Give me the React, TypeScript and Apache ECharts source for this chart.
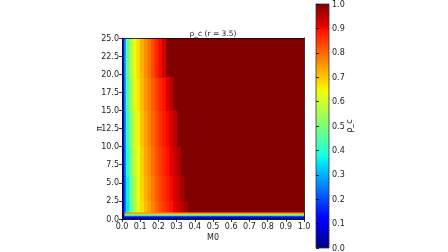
import React, { useEffect, useRef } from "react";
import * as echarts from "echarts";

// x cell edges (M0) and y bands (π)
const xEdges = [0, 0.01, 0.02, 0.04, 0.06, 0.08, 0.1, 0.12, 0.14, 0.16, 0.18, 0.2, 0.22, 0.24, 0.26, 0.28, 0.3, 0.32, 0.34, 0.36, 1.0];
const bandLow = [0.9, 2.5, 6, 10, 15, 19.6];
const bandHigh = [2.5, 6, 10, 15, 19.6, 25];
const profile0 = [0.08, 0.2, 0.35, 0.47, 0.56, 0.62, 0.67, 0.71, 0.74, 0.77, 0.8, 0.83, 0.85, 0.87, 0.89, 0.91, 0.93, 0.95, 0.97, 1];
const profile1 = [0.08, 0.2, 0.36, 0.48, 0.57, 0.63, 0.68, 0.72, 0.75, 0.78, 0.81, 0.84, 0.86, 0.88, 0.9, 0.92, 0.94, 0.97, 1, 1];
const profile2 = [0.08, 0.21, 0.38, 0.5, 0.59, 0.64, 0.69, 0.73, 0.76, 0.79, 0.82, 0.85, 0.87, 0.89, 0.91, 0.93, 0.96, 1, 1, 1];
const profile3 = [0.08, 0.22, 0.4, 0.52, 0.6, 0.65, 0.7, 0.74, 0.77, 0.8, 0.83, 0.86, 0.88, 0.9, 0.92, 0.95, 1, 1, 1, 1];
const profile4 = [0.08, 0.24, 0.43, 0.55, 0.62, 0.67, 0.71, 0.75, 0.78, 0.81, 0.84, 0.87, 0.89, 0.92, 0.95, 1, 1, 1, 1, 1];
const profile5 = [0.08, 0.25, 0.45, 0.57, 0.63, 0.68, 0.72, 0.76, 0.79, 0.83, 0.87, 0.9, 0.93, 1, 1, 1, 1, 1, 1, 1];
const profiles = [profile0, profile1, profile2, profile3, profile4, profile5];
// bottom stripes (uniform across M0)
const bottomLow = [0, 0.3, 0.45, 0.6, 0.75];
const bottomHigh = [0.3, 0.45, 0.6, 0.75, 0.9];
const bottomValues = [0.03, 0.15, 0.35, 0.55, 0.75];

const xTicks = [0, 0.1, 0.2, 0.3, 0.4, 0.5, 0.6, 0.7, 0.8, 0.9, 1.0];
const yTicks = [0, 2.5, 5, 7.5, 10, 12.5, 15, 17.5, 20, 22.5, 25];
const cbTicks = [0, 0.1, 0.2, 0.3, 0.4, 0.5, 0.6, 0.7, 0.8, 0.9, 1.0];

const JET: [number, number[]][] = [
  [0, [0, 0, 128]], [0.11, [0, 0, 255]], [0.125, [0, 0, 255]], [0.34, [0, 219, 255]],
  [0.35, [0, 230, 247]], [0.375, [21, 255, 226]], [0.64, [239, 255, 8]], [0.65, [247, 246, 0]],
  [0.66, [255, 236, 0]], [0.89, [255, 19, 0]], [0.91, [232, 0, 0]], [1, [128, 0, 0]],
];
function jet(v: number): string {
  const t = Math.max(0, Math.min(1, v));
  for (let i = 1; i < JET.length; i++) {
    if (t <= JET[i][0]) {
      const [a, ca] = JET[i - 1];
      const [b, cb] = JET[i];
      const f = b === a ? 0 : (t - a) / (b - a);
      const c = ca.map((x, k) => Math.round(x + (cb[k] - x) * f));
      return `rgb(${c[0]},${c[1]},${c[2]})`;
    }
  }
  return "rgb(128,0,0)";
}

export default function App() {
  const ref = useRef<HTMLDivElement>(null);
  useEffect(() => {
    if (!ref.current) return;
    const chart = echarts.init(ref.current, null, { renderer: "svg" });
    const cells: number[][] = [];
    // background of the panel: saturated region (ρ_c = 1)
    cells.push([0, 1, 0, 25, 1]);
    for (let b = 0; b < bandLow.length; b++) {
      for (let i = 0; i < xEdges.length - 1; i++) {
        if (profiles[b][i] >= 1) continue;
        cells.push([xEdges[i], xEdges[i + 1], bandLow[b], bandHigh[b], profiles[b][i]]);
      }
    }
    for (let r = 0; r < bottomLow.length; r++) {
      cells.push([0, 1, bottomLow[r], bottomHigh[r], bottomValues[r]]);
    }
    cells.push([0, xEdges[1], 0, bandLow[0], 0.05]);

    const font = "DejaVu Sans";
    const lbl = { fontSize: 8, color: "#222", fontFamily: font };
    const stops = JET.map(([o, c]) => ({ offset: o, color: `rgb(${c[0]},${c[1]},${c[2]})` }));

    chart.setOption({
      animation: false,
      title: {
        text: "ρ_c (r = 3.5)", left: 213, top: 29, padding: 0, textAlign: "center",
        textStyle: { fontSize: 7.5, fontWeight: "normal", color: "#222", fontFamily: font },
      },
      grid: [
        { left: 122, top: 38, width: 182, height: 181 },
        { left: 316, top: 3, width: 13, height: 251 },
      ],
      xAxis: [
        {
          gridIndex: 0, type: "value", min: 0, max: 1, interval: 0.1, z: 10,
          name: "M0", nameLocation: "middle", nameGap: 14, nameTextStyle: lbl, nameMoveOverlap: false,
          axisLine: { show: true, lineStyle: { color: "#000", width: 0.8 } },
          axisTick: { show: true, length: 3, lineStyle: { color: "#000", width: 0.8 } },
          axisLabel: { ...lbl, margin: 3, formatter: (v: number) => (xTicks.includes(Math.round(v * 10) / 10) ? v.toFixed(1) : "") },
          splitLine: { show: false },
        },
        {
          gridIndex: 0, type: "value", min: 0, max: 1, position: "top", z: 10,
          axisLine: { show: true, onZero: false, lineStyle: { color: "#000", width: 0.8 } },
          axisTick: { show: false }, axisLabel: { show: false }, splitLine: { show: false },
        },
        { gridIndex: 1, type: "value", min: 0, max: 1, show: false },
      ],
      yAxis: [
        {
          gridIndex: 0, type: "value", min: 0, max: 25, interval: 2.5, z: 10,
          name: "π", nameLocation: "middle", nameGap: 19, nameRotate: 90, nameTextStyle: lbl, nameMoveOverlap: false,
          axisLine: { show: true, lineStyle: { color: "#000", width: 0.8 } },
          axisTick: { show: true, length: 3, lineStyle: { color: "#000", width: 0.8 } },
          axisLabel: { ...lbl, margin: 3, formatter: (v: number) => (yTicks.includes(v) ? v.toFixed(1) : "") },
          splitLine: { show: false },
        },
        {
          gridIndex: 0, type: "value", min: 0, max: 25, position: "right", z: 10,
          axisLine: { show: true, onZero: false, lineStyle: { color: "#000", width: 0.8 } },
          axisTick: { show: false }, axisLabel: { show: false }, splitLine: { show: false },
        },
        {
          gridIndex: 1, type: "value", min: 0, max: 1, interval: 0.1, position: "right", z: 10,
          name: "ρ_c", nameLocation: "middle", nameGap: 16, nameRotate: 90, nameTextStyle: lbl, nameMoveOverlap: false,
          axisLine: { show: false },
          axisTick: { show: true, length: 3, lineStyle: { color: "#000", width: 0.8 } },
          axisLabel: { ...lbl, margin: 3, formatter: (v: number) => (cbTicks.includes(Math.round(v * 10) / 10) ? v.toFixed(1) : "") },
          splitLine: { show: false },
        },
      ],
      series: [
        {
          type: "custom", xAxisIndex: 0, yAxisIndex: 0,
          encode: { x: [0, 1], y: [2, 3] },
          data: cells,
          renderItem: (_p: any, api: any) => {
            const p0 = api.coord([api.value(0), api.value(3)]);
            const p1 = api.coord([api.value(1), api.value(2)]);
            const isBg = api.value(1) - api.value(0) >= 1 && api.value(3) - api.value(2) >= 25;
            const pad = isBg ? 0 : 0.6;
            return {
              type: "rect",
              shape: { x: p0[0], y: p0[1], width: p1[0] - p0[0] + pad, height: p1[1] - p0[1] + pad },
              style: { fill: jet(api.value(4)), stroke: null },
            };
          },
        },
        {
          type: "custom", xAxisIndex: 2, yAxisIndex: 2,
          data: [[0, 1, 0, 1]],
          encode: { x: [0, 1], y: [2, 3] },
          renderItem: (_p: any, api: any) => {
            const p0 = api.coord([0, 1]);
            const p1 = api.coord([1, 0]);
            return {
              type: "rect",
              shape: { x: p0[0], y: p0[1], width: p1[0] - p0[0], height: p1[1] - p0[1] },
              style: {
                fill: new echarts.graphic.LinearGradient(0, 1, 0, 0, stops),
                stroke: "#333", lineWidth: 0.8,
              },
            };
          },
        },
      ],
    });
    return () => chart.dispose();
  }, []);
  return <div ref={ref} style={{ position: "fixed", left: 0, top: 0, width: 448, height: 252 }} />;
}
